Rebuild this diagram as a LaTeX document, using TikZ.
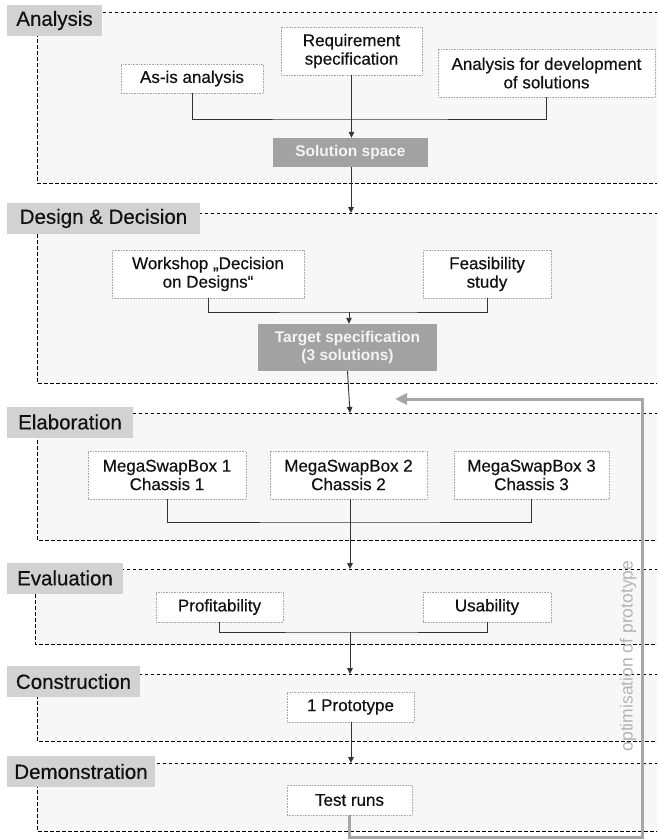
\documentclass[tikz,border=0pt]{standalone}
\usepackage{fontspec}
\setmainfont{Liberation Sans}
\newfontfamily\heavyish[FakeBold=0.4]{Liberation Sans}
\usetikzlibrary{arrows.meta}
\definecolor{framefill}{HTML}{F7F7F7}
\definecolor{labelfill}{HTML}{D2D2D2}
\definecolor{textdark}{HTML}{111111}
\definecolor{boxline}{HTML}{A8A8A8}
\definecolor{resfill}{HTML}{A2A2A2}
\definecolor{restext}{HTML}{F4F4F4}
\definecolor{linkcol}{HTML}{333333}
\definecolor{loopcol}{HTML}{A6A6A6}
\definecolor{looptext}{HTML}{B4B4B4}
\tikzset{
  framedash/.style={draw=black, line width=0.8pt, dash pattern=on 3.5pt off 2.5pt},
  phase/.style={fill=labelfill, inner sep=0pt, text=textdark,
    font=\heavyish\fontsize{20.5}{22}\selectfont, minimum height=31pt},
  box/.style={draw=boxline, densely dotted, line width=0.6pt, fill=white,
    inner sep=0pt, align=center, text=textdark, font=\heavyish\fontsize{17}{18.5}\selectfont},
  result/.style={fill=resfill, inner sep=0pt, align=center, text=restext,
    font=\bfseries\fontsize{15.5}{18.5}\selectfont},
  link/.style={draw=linkcol, line width=0.9pt},
  arr/.style={link, -{Triangle[length=6pt,width=5.5pt]}},
  feedback/.style={draw=loopcol, line width=3pt, -{Triangle[length=12pt,width=11pt]}}
}
\begin{document}
\begin{tikzpicture}[x=1pt,y=-1pt]
\useasboundingbox (0,0) rectangle (657,839);
\clip (0,0) rectangle (657,839);
\fill[white] (0,0) rectangle (657,839);

% phase frames: light fill, dashed left/top/bottom edges
\fill[framefill] (37,12) rectangle (670,183);
\draw[framedash] (670,12) -- (37,12) -- (37,183) -- (670,183);
\fill[framefill] (37,213) rectangle (670,383);
\draw[framedash] (670,213) -- (37,213) -- (37,383) -- (670,383);
\fill[framefill] (37,413) rectangle (670,540);
\draw[framedash] (670,413) -- (37,413) -- (37,540) -- (670,540);
\fill[framefill] (35,569) rectangle (670,644);
\draw[framedash] (670,569) -- (35,569) -- (35,644) -- (670,644);
\fill[framefill] (37,674) rectangle (670,741);
\draw[framedash] (670,674) -- (37,674) -- (37,741) -- (670,741);
\fill[framefill] (37,763) rectangle (670,831);
\draw[framedash] (670,763) -- (37,763) -- (37,831) -- (670,831);

% phase labels
\node[phase, minimum width=95pt] (lana) at (54.5,20.5) {Analysis};
\node[phase, minimum width=193pt] (ldes) at (103.5,218.5) {Design \& Decision};
\node[phase, minimum width=126pt] (lela) at (70,422) {Elaboration};
\node[phase, minimum width=116pt] (leva) at (65,578) {Evaluation};
\node[phase, minimum width=133pt] (lcon) at (73.5,681.5) {Construction};
\node[phase, minimum width=148pt] (ldem) at (81,771.5) {Demonstration};

% Analysis
\node[box, minimum width=142pt, minimum height=29pt] (asis) at (192,78.5) {As-is analysis};
\node[box, minimum width=141pt, minimum height=48pt] (req) at (351.5,51) {Requirement\\specification};
\node[box, minimum width=217pt, minimum height=48pt] (adev) at (546.5,73) {Analysis for development\\of solutions};
\node[result, minimum width=155pt, minimum height=29pt] (sol) at (350.5,152.5) {Solution space};

% Design & Decision
\node[box, minimum width=192pt, minimum height=48pt] (work) at (208,274) {Workshop „Decision\\on Designs“};
\node[box, minimum width=128pt, minimum height=48pt] (feas) at (487,274) {Feasibility\\study};
\node[result, minimum width=179pt, minimum height=47pt] (target) at (347.5,347.5) {Target specification\\(3 solutions)};

% Elaboration
\node[box, minimum width=158pt, minimum height=48pt] (m1) at (167,475) {MegaSwapBox 1\\Chassis 1};
\node[box, minimum width=157pt, minimum height=48pt] (m2) at (348.5,475) {MegaSwapBox 2\\Chassis 2};
\node[box, minimum width=155pt, minimum height=48pt] (m3) at (531.5,475) {MegaSwapBox 3\\Chassis 3};

% Evaluation
\node[box, minimum width=127pt, minimum height=30pt] (prof) at (219.5,607) {Profitability};
\node[box, minimum width=128pt, minimum height=30pt] (usab) at (487,607) {Usability};

% Construction / Demonstration
\node[box, minimum width=127pt, minimum height=30pt] (proto) at (350.5,707) {1 Prototype};
\node[box, minimum width=125pt, minimum height=30pt] (test) at (349.5,800) {Test runs};

% junction and entry points
\coordinate (ja) at (351,119);
\coordinate (jd) at (349,312);
\coordinate (je) at (350,522);
\coordinate (jv) at (350,632);
\coordinate (indes) at (351,213);
\coordinate (inela) at (350,413);
\coordinate (ineva) at (350,569);
\coordinate (incon) at (350,674);
\coordinate (indem) at (351,763);
\coordinate (lp1) at (349,837);
\coordinate (lp2) at (642,837);
\coordinate (lp3) at (642,399);
\coordinate (lpend) at (395,399);

% connectors
\draw[link] (asis.south) |- (ja) -| (adev.south);
\draw[arr] (req.south) -- (req.south |- sol.north);
\draw[arr] (sol.south -| indes) -- (indes);
\draw[link] (work.south) |- (jd) -| (feas.south);
\draw[arr] (jd) -- (jd |- target.north);
\draw[arr] (target.south) -- (inela);
\draw[link] (m1.south) |- (je) -| (m3.south);
\draw[arr] (m2.south -| inela) -- (ineva);
\draw[link] (prof.south) |- (jv) -| (usab.south);
\draw[arr] (jv) -- (incon);
\draw[arr] (proto.south -| indem) -- (indem);

% optimisation loop
\draw[feedback] (test.south -| lp1) -- (lp1) -- (lp2) -- (lp3) -- (lpend);
\node[rotate=90, text=looptext, font=\fontsize{17.5}{20}\selectfont] (opt) at (628,656) {optimisation of prototype};
\end{tikzpicture}
\end{document}
